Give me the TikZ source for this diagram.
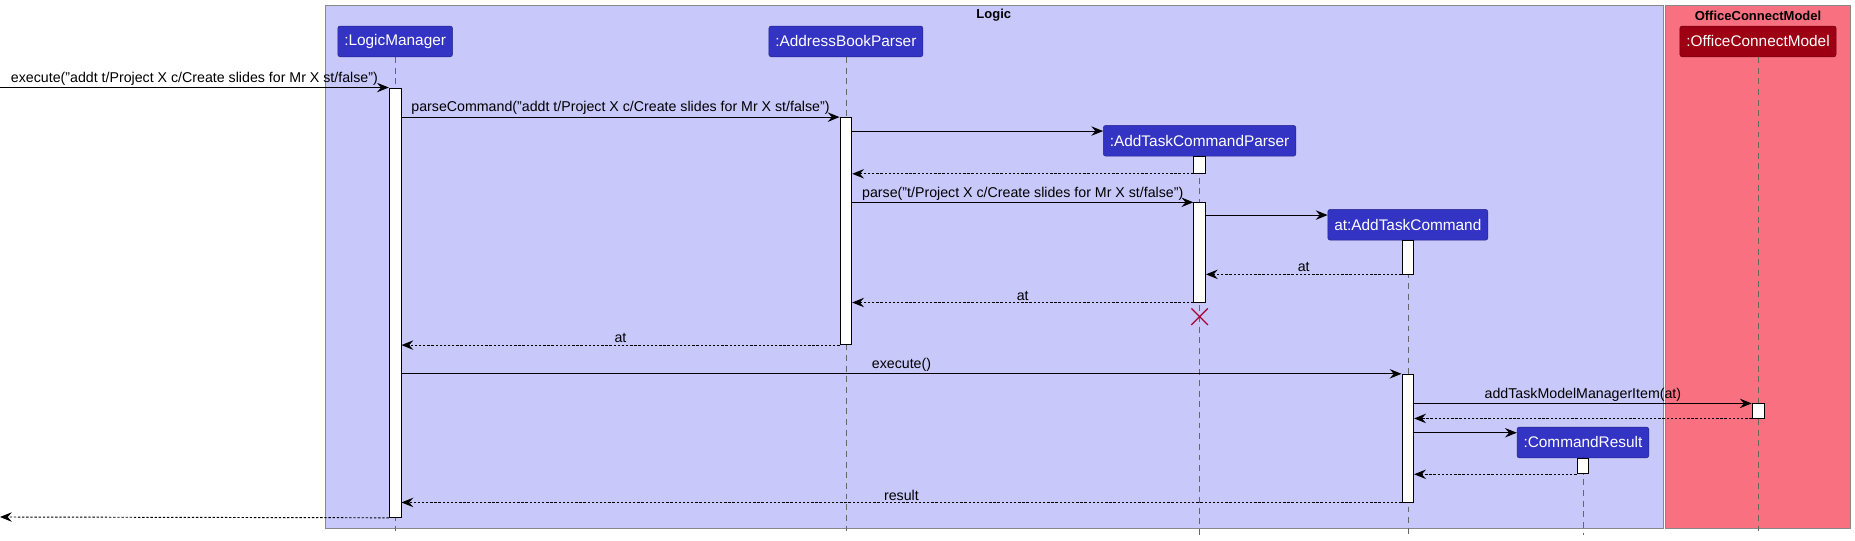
\documentclass[tikz,border=0pt]{standalone}
\usepackage{fontspec}
\setmainfont{Liberation Sans}
\usetikzlibrary{arrows.meta,positioning}
\definecolor{logicbg}{HTML}{C8C8FA}
\definecolor{modelbg}{HTML}{F97181}
\definecolor{partblue}{HTML}{3333C4}
\definecolor{partred}{HTML}{9D0012}
\definecolor{killred}{HTML}{A80036}
\definecolor{boxline}{HTML}{888888}

\begin{document}
\begin{tikzpicture}[x=1pt,y=-1pt,
  part/.style={draw=partblue!70!black,fill=partblue,text=white,rounded corners=2pt,
    minimum height=26pt,inner xsep=5.5pt,font=\fontsize{13}{15}\selectfont},
  act/.style={draw,fill=white,anchor=north,minimum width=10pt,inner sep=0pt,line width=0.7pt},
  lifeline/.style={draw=gray!80!black,dash pattern=on 5pt off 4pt,line width=0.5pt},
  msg/.style={-{Stealth[length=10pt,width=8pt,inset=3.5pt]},line width=0.8pt},
  ret/.style={msg,dash pattern=on 2pt off 1.5pt},
  lbl/.style={font=\fontsize{12}{14}\selectfont,inner sep=1.5pt},
  grouptitle/.style={font=\bfseries\fontsize{11}{13}\selectfont}]
\useasboundingbox (0,0) rectangle (1568,457);

% boxes
\draw[draw=boxline,fill=logicbg,line width=0.8pt] (275,5) rectangle (1406,447);
\draw[draw=boxline,fill=modelbg,line width=0.8pt] (1408,5) rectangle (1564,447);
\node[grouptitle] (logictitle) at (840,13) {Logic};
\node[grouptitle] (modeltitle) at (1486,13) {OfficeConnectModel};

% participants
\node[part] (lm) at (334,35) {:LogicManager};
\node[part] (abp) at (715,35) {:AddressBookParser};
\node[part] (atcp) at (1014,119) {:AddTaskCommandParser};
\node[part] (atc) at (1190,190) {at:AddTaskCommand};
\node[part] (cr) at (1338,374) {:CommandResult};
\node[part,fill=partred,draw=partred!70!black] (ocm) at (1486,35) {:OfficeConnectModel};

\coordinate (bot) at (0,452);
\foreach \p in {lm,abp,atcp,atc,cr,ocm}
  \draw[lifeline] (\p.south) -- (\p.south |- bot);

% activations
\node[act,minimum height=363pt] (lmact) at (334,74) {};
\node[act,minimum height=192pt] (abpact) at (715,99) {};
\node[act,minimum height=14pt] (atcpact) at (atcp.south) {};
\node[act,minimum height=84pt] (atcpact2) at (1014,171) {};
\node[act,minimum height=28pt] (atcact) at (atc.south) {};
\node[act,minimum height=108pt] (atcact2) at (1190,316) {};
\node[act,minimum height=12pt] (ocmact) at (1486,341) {};
\node[act,minimum height=13pt] (cract) at (cr.south) {};

% messages
\coordinate (start) at (0,74);
\coordinate (finish) at (0,437);
\coordinate (atcpin) at ([yshift=-5pt]atcp.north west);
\coordinate (atcin) at ([yshift=-5pt]atc.north west);
\coordinate (crin) at ([yshift=-5pt]cr.north west);

\draw[msg] (start) -- (lmact.north west)
  node[midway,above,lbl] {execute("addt t/Project X c/Create slides for Mr X st/false")};
\draw[msg] (lmact.east |- abpact.north) -- (abpact.north west)
  node[midway,above,lbl] {parseCommand("addt t/Project X c/Create slides for Mr X st/false")};
\draw[msg] (abpact.east |- atcpin) -- (atcpin);
\draw[ret] (atcpact.south west) -- (abpact.east |- atcpact.south);
\draw[msg] (abpact.east |- atcpact2.north) -- (atcpact2.north west)
  node[midway,above,lbl] {parse("t/Project X c/Create slides for Mr X st/false")};
\draw[msg] (atcpact2.east |- atcin) -- (atcin);
\draw[ret] (atcact.south west) -- (atcpact2.east |- atcact.south)
  node[midway,above,lbl] {at};
\draw[ret] (atcpact2.south west) -- (abpact.east |- atcpact2.south)
  node[midway,above,lbl] {at};
\coordinate (kill) at ([yshift=-12pt]atcpact2.south);
\draw[killred,line width=1pt] (kill) +(-7pt,-7pt) -- +(7pt,7pt) (kill) +(-7pt,7pt) -- +(7pt,-7pt);
\draw[ret] (abpact.south west) -- (lmact.east |- abpact.south)
  node[midway,above,lbl] {at};
\draw[msg] (lmact.east |- atcact2.north) -- (atcact2.north west)
  node[midway,above,lbl] {execute()};
\draw[msg] (atcact2.east |- ocmact.north) -- (ocmact.north west)
  node[midway,above,lbl] {addTaskModelManagerItem(at)};
\draw[ret] (ocmact.south west) -- (atcact2.east |- ocmact.south);
\draw[msg] (atcact2.east |- crin) -- (crin);
\draw[ret] (cract.south west) -- (atcact2.east |- cract.south);
\draw[ret] (atcact2.south west) -- (lmact.east |- atcact2.south)
  node[midway,above,lbl] {result};
\draw[ret] (lmact.south west) -- (finish);
\end{tikzpicture}
\end{document}
